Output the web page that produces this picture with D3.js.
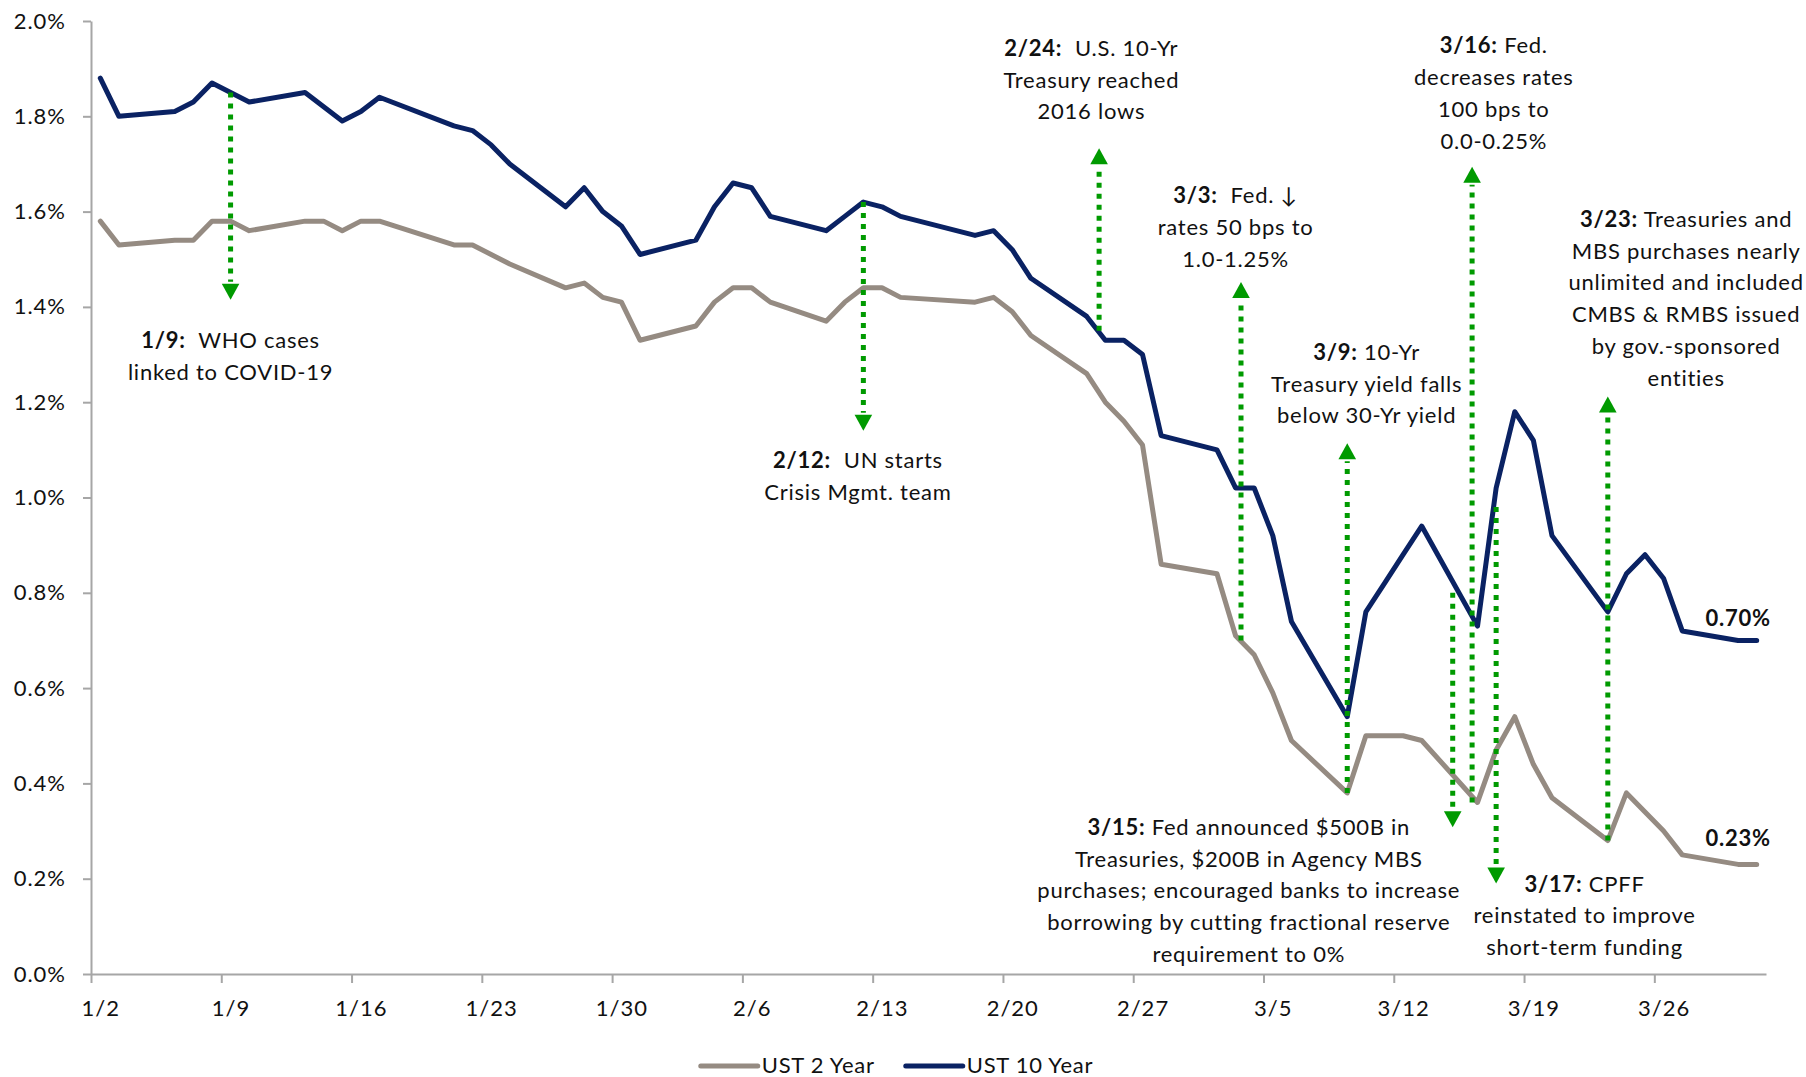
<!DOCTYPE html>
<html>
<head>
<meta charset="utf-8">
<script src="https://cdn.jsdelivr.net/npm/d3@7"></script>
<style>
  body { margin: 0; background: #fff; }
  svg { display: block; font-family: Lato, 'DejaVu Sans', sans-serif; }
  svg text { letter-spacing: 0.75px; }
  .axis text { font-size: 22px; fill: #111; font-family: Lato, sans-serif; letter-spacing: 1px; }
  .axis path, .axis line { stroke: #a6a6a6; stroke-width: 2; }
  .note { font-size: 22px; fill: #111; white-space: pre; }
  .legend text { font-size: 22px; fill: #111; }
</style>
</head>
<body>
<div id="chart"></div>
<script>
// trading days, Q1 2020
const dates = [
  '2020-01-02', '2020-01-03', '2020-01-06', '2020-01-07', '2020-01-08', '2020-01-09', '2020-01-10',
  '2020-01-13', '2020-01-14', '2020-01-15', '2020-01-16', '2020-01-17', '2020-01-21', '2020-01-22',
  '2020-01-23', '2020-01-24', '2020-01-27', '2020-01-28', '2020-01-29', '2020-01-30', '2020-01-31',
  '2020-02-03', '2020-02-04', '2020-02-05', '2020-02-06', '2020-02-07', '2020-02-10', '2020-02-11',
  '2020-02-12', '2020-02-13', '2020-02-14', '2020-02-18', '2020-02-19', '2020-02-20', '2020-02-21',
  '2020-02-24', '2020-02-25', '2020-02-26', '2020-02-27', '2020-02-28',
  '2020-03-02', '2020-03-03', '2020-03-04', '2020-03-05', '2020-03-06', '2020-03-09', '2020-03-10',
  '2020-03-11', '2020-03-12', '2020-03-13', '2020-03-16', '2020-03-17', '2020-03-18', '2020-03-19',
  '2020-03-20', '2020-03-23', '2020-03-24', '2020-03-25', '2020-03-26', '2020-03-27', '2020-03-30',
  '2020-03-31'
]

const ust2 = [
  1.58, 1.53, 1.54, 1.54, 1.58, 1.58, 1.56, 1.58, 1.58, 1.56, 1.58, 1.58, 1.53, 1.53, 1.51, 1.49,
  1.44, 1.45, 1.42, 1.41, 1.33,
  1.36, 1.41, 1.44, 1.44, 1.41, 1.37, 1.41, 1.44, 1.44, 1.42, 1.41, 1.42, 1.39, 1.34, 1.26, 1.20,
  1.16, 1.11, 0.86,
  0.84, 0.71, 0.67, 0.59, 0.49, 0.38, 0.50, 0.50, 0.50, 0.49, 0.36, 0.47, 0.54, 0.44, 0.37, 0.28,
  0.38, 0.34, 0.30, 0.25, 0.23, 0.23
]

const ust10 = [
  1.88, 1.80, 1.81, 1.83, 1.87, 1.85, 1.83, 1.85, 1.82, 1.79, 1.81, 1.84, 1.78, 1.77, 1.74, 1.70,
  1.61, 1.65, 1.60, 1.57, 1.51,
  1.54, 1.61, 1.66, 1.65, 1.59, 1.56, 1.59, 1.62, 1.61, 1.59, 1.55, 1.56, 1.52, 1.46, 1.38, 1.33,
  1.33, 1.30, 1.13,
  1.10, 1.02, 1.02, 0.92, 0.74, 0.54, 0.76, 0.82, 0.88, 0.94, 0.73, 1.02, 1.18, 1.12, 0.92, 0.76,
  0.84, 0.88, 0.83, 0.72, 0.70, 0.70
]

const seriesNames = ['UST 2 Year', 'UST 10 Year']
const yTicks = [0, 0.2, 0.4, 0.6, 0.8, 1.0, 1.2, 1.4, 1.6, 1.8, 2.0]
const xTicks = ['2020-01-02', '2020-01-09', '2020-01-16', '2020-01-23', '2020-01-30', '2020-02-06',
  '2020-02-13', '2020-02-20', '2020-02-27', '2020-03-05', '2020-03-12', '2020-03-19', '2020-03-26']

// event arrows: where they sit and which yield level they run between
const arrowDates = ['2020-01-09', '2020-02-12', '2020-02-24T16:00', '2020-03-03T07:00', '2020-03-09',
  '2020-03-14T16:00', '2020-03-15T17:00', '2020-03-17', '2020-03-23']
const arrowFrom = [1.85, 1.62, 1.35, 0.70, 0.38, 0.80, 0.36, 0.98, 0.28]
const arrowTo = [1.415, 1.14, 1.733, 1.452, 1.114, 0.308, 1.694, 0.19, 1.212]

// event notes
const noteHeads = ['1/9:', '2/12:', '2/24:', '3/3:', '3/9:', '3/16:', '3/23:', '3/15:', '3/17:']
const noteFirst = ['  WHO cases', '  UN starts', '  U.S. 10-Yr', '  Fed. ↓', ' 10-Yr', ' Fed.',
  ' Treasuries and', ' Fed announced $500B in', ' CPFF']
const noteRest = [
  ['linked to COVID-19'],
  ['Crisis Mgmt. team'],
  ['Treasury reached', '2016 lows'],
  ['rates 50 bps to', '1.0-1.25%'],
  ['Treasury yield falls', 'below 30-Yr yield'],
  ['decreases rates', '100 bps to', '0.0-0.25%'],
  ['MBS purchases nearly', 'unlimited and included', 'CMBS & RMBS issued', 'by gov.-sponsored', 'entities'],
  ['Treasuries, $200B in Agency MBS', 'purchases; encouraged banks to increase',
    'borrowing by cutting fractional reserve', 'requirement to 0%'],
  ['reinstated to improve', 'short-term funding']
]
const noteDates = ['2020-01-09', '2020-02-11T17:00', '2020-02-24T06:00', '2020-03-03', '2020-03-10T01:00',
  '2020-03-16T21:00', '2020-03-27T05:00', '2020-03-03T17:00', '2020-03-21T18:00']
const noteValues = [1.314, 1.061, 1.927, 1.617, 1.289, 1.932, 1.568, 0.292, 0.173]

const colors = ['#958b82', '#0a2263']
const green = '#009a00'

const margin = { top: 21, right: 40, bottom: 103, left: 91 }
const width = 1806 - margin.left - margin.right
const height = 1077 - margin.top - margin.bottom

const parse = s => new Date(s.length > 10 ? s + 'Z' : s + 'T00:00Z')
const halfDay = 12 * 3600 * 1000

const svg = d3
  .select('#chart')
  .append('svg')
  .attr('width', width + margin.left + margin.right)
  .attr('height', height + margin.top + margin.bottom)
  .append('g')
  .attr('transform', 'translate(' + margin.left + ',' + margin.top + ')')

const xPositionScale = d3
  .scaleUtc()
  .domain([
    new Date(+parse(dates[0]) - halfDay),
    new Date(+parse(dates[dates.length - 1]) + halfDay)
  ])
  .range([0, width])

const yPositionScale = d3
  .scaleLinear()
  .domain([0, 2])
  .range([height, 0])

const slot = xPositionScale(parse('2020-01-03')) - xPositionScale(parse('2020-01-02'))

// axes
const yAxis = d3
  .axisLeft(yPositionScale)
  .tickValues(yTicks)
  .tickSize(8)
  .tickSizeOuter(0)
  .tickPadding(17)
  .tickFormat(d => d.toFixed(1) + '%')

svg.append('g').attr('class', 'axis y-axis').call(yAxis)

const xAxis = d3
  .axisBottom(xPositionScale)
  .tickValues(xTicks.map(parse))
  .tickSize(9)
  .tickSizeOuter(0)
  .tickPadding(17)
  .tickFormat(d3.utcFormat('%-m/%-d'))

svg
  .append('g')
  .attr('class', 'axis x-axis')
  .attr('transform', 'translate(0,' + height + ')')
  .call(xAxis)

// tick marks sit between days, labels on the day
svg
  .selectAll('.x-axis .tick line')
  .attr('x1', -slot / 2)
  .attr('x2', -slot / 2)

// series
const series = [ust2, ust10].map((vals, i) => ({
  name: seriesNames[i],
  color: colors[i],
  points: vals.map((v, j) => ({ date: parse(dates[j]), value: v }))
}))

const line = d3
  .line()
  .x(d => xPositionScale(d.date))
  .y(d => yPositionScale(d.value))

svg
  .selectAll('.series')
  .data(series)
  .enter()
  .append('path')
  .attr('class', 'series')
  .attr('d', d => line(d.points))
  .attr('fill', 'none')
  .attr('stroke', d => d.color)
  .attr('stroke-width', 5)
  .attr('stroke-linejoin', 'round')
  .attr('stroke-linecap', 'round')

// end labels
svg
  .selectAll('.end-label')
  .data(series)
  .enter()
  .append('text')
  .attr('class', 'end-label')
  .attr('x', d => xPositionScale(d.points[d.points.length - 2].date))
  .attr('y', (d, i) => yPositionScale(d.points[d.points.length - 1].value) - (i === 0 ? 18 : 14))
  .attr('text-anchor', 'middle')
  .attr('font-size', 22)
  .attr('font-weight', 'bold')
  .attr('fill', '#111')
  .text(d => d.points[d.points.length - 1].value.toFixed(2) + '%')

// arrows
const headLen = 16
const headHalf = 8.8
const arrows = arrowDates.map((d, i) => ({
  x: xPositionScale(parse(d)),
  y0: yPositionScale(arrowFrom[i]),
  y1: yPositionScale(arrowTo[i])
}))

const arrowG = svg
  .selectAll('.arrow')
  .data(arrows)
  .enter()
  .append('g')
  .attr('class', 'arrow')

arrowG
  .append('line')
  .attr('x1', d => d.x)
  .attr('x2', d => d.x)
  .attr('y1', d => d.y0)
  .attr('y2', d => d.y1 + Math.sign(d.y0 - d.y1) * (headLen + 2))
  .attr('stroke', green)
  .attr('stroke-width', 5)
  .attr('stroke-dasharray', '5,6')

arrowG
  .append('path')
  .attr('d', d => {
    const s = Math.sign(d.y0 - d.y1)
    return 'M' + d.x + ',' + d.y1 +
      'L' + (d.x - headHalf) + ',' + (d.y1 + s * headLen) +
      'L' + (d.x + headHalf) + ',' + (d.y1 + s * headLen) + 'Z'
  })
  .attr('fill', green)

// notes
const lineHeight = 31.8
const notes = noteHeads.map((h, i) => ({
  x: xPositionScale(parse(noteDates[i])),
  y: yPositionScale(noteValues[i]),
  head: h,
  first: noteFirst[i],
  rest: noteRest[i]
}))

const noteText = svg
  .selectAll('.note')
  .data(notes)
  .enter()
  .append('text')
  .attr('class', 'note')
  .attr('text-anchor', 'middle')
  .attr('x', d => d.x)
  .attr('y', d => d.y)

noteText.each(function(d) {
  const t = d3.select(this)
  const first = t.append('tspan').attr('x', d.x)
  first.append('tspan').attr('font-weight', 'bold').text(d.head)
  first.append('tspan').text(d.first)
  d.rest.forEach(r => {
    t.append('tspan')
      .attr('x', d.x)
      .attr('dy', lineHeight)
      .text(r)
  })
})

// legend
const legend = svg
  .append('g')
  .attr('class', 'legend')
  .attr('transform', 'translate(0,' + (height + 92) + ')')

const items = legend
  .selectAll('.item')
  .data(series)
  .enter()
  .append('g')
  .attr('class', 'item')

items
  .append('line')
  .attr('x1', 0)
  .attr('x2', 57)
  .attr('y1', 0)
  .attr('y2', 0)
  .attr('stroke', d => d.color)
  .attr('stroke-width', 5)
  .attr('stroke-linecap', 'round')

items
  .append('text')
  .attr('x', 61)
  .attr('y', 7)
  .text(d => d.name)

let offset = 0
const itemWidths = []
items.each(function() {
  itemWidths.push(this.getBBox().width)
})
const total = d3.sum(itemWidths) + 31
const startX = 806 - total / 2
items.attr('transform', (d, i) => {
  const tx = startX + offset
  offset += itemWidths[i] + 31
  return 'translate(' + tx + ',0)'
})
</script>
</body>
</html>
